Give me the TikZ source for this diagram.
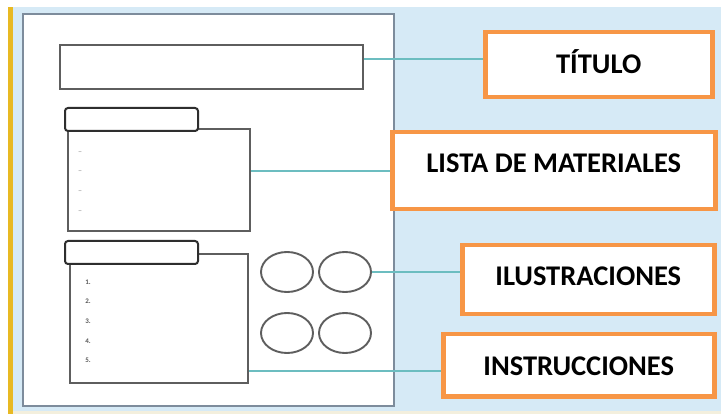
\documentclass[tikz,border=0pt]{standalone}
\usepackage{fontspec}
\setmainfont{Carlito}
\usetikzlibrary{shapes.geometric}
\definecolor{bgblue}{HTML}{D6EAF6}
\definecolor{pageframe}{HTML}{7D8C9C}
\definecolor{boxgray}{HTML}{5E5E5E}
\definecolor{tabdark}{HTML}{2E2E2E}
\definecolor{connteal}{HTML}{6CBDC0}
\definecolor{orng}{HTML}{F79646}
\definecolor{ystripe}{HTML}{E8B923}
\definecolor{paleyel}{HTML}{F3EFDD}
\begin{document}
\begin{tikzpicture}[x=1pt,y=-1pt,
  sbox/.style={draw=boxgray, line width=1.8pt, fill=white, inner sep=0pt, anchor=north west},
  tabbox/.style={draw=tabdark, line width=2pt, fill=white, rounded corners=3pt, inner sep=0pt, anchor=north west, minimum width=133pt, minimum height=23pt},
  oval/.style={ellipse, draw=boxgray, line width=1.9pt, fill=white, minimum width=52pt, minimum height=40pt, inner sep=0pt},
  lab/.style={draw=orng, line width=4.5pt, fill=white, inner sep=0pt, anchor=north west,
    font=\fontsize{28.5}{32}\selectfont\bfseries, text height=18pt, text depth=0pt},
  conn/.style={draw=connteal, line width=2pt},
  num/.style={font=\fontsize{7}{8}\selectfont\bfseries, text=black!65, inner sep=0pt},
  dsh/.style={font=\fontsize{8}{9}\selectfont, text=black!45, inner sep=0pt}]
\useasboundingbox (0,0) rectangle (721,414);
\fill[white] (0,0) rectangle (721,414);
\fill[bgblue] (8,7) rectangle (721,411);
\fill[paleyel] (8,411) rectangle (721,414);
\fill[ystripe] (8,7) rectangle (13,414);
% page
\node[draw=pageframe, line width=2pt, fill=white, inner sep=0pt, anchor=north west,
  minimum width=371pt, minimum height=392pt] (page) at (22,13) {};
% title box
\node[sbox, minimum width=303pt, minimum height=44pt] (tbox) at (59,44) {};
% materials
\node[sbox, minimum width=182pt, minimum height=102pt] (mbox) at (67,128) {};
\node[tabbox] (mtab) at (64,107) {};
\node[dsh] (d1) at (80,153) {–};
\node[dsh] (d2) at (80,172) {–};
\node[dsh] (d3) at (80,192) {–};
\node[dsh] (d4) at (80,212) {–};
% instructions
\node[sbox, minimum width=178pt, minimum height=129pt] (ibox) at (69,253) {};
\node[tabbox] (itab) at (64,240) {};
\node[num] (n1) at (88,282) {1.};
\node[num] (n2) at (88,301) {2.};
\node[num] (n3) at (88,321) {3.};
\node[num] (n4) at (88,341) {4.};
\node[num] (n5) at (88,360) {5.};
% illustrations
\node[oval] (e1) at (287,272) {};
\node[oval] (e2) at (345,272) {};
\node[oval] (e3) at (287,333) {};
\node[oval] (e4) at (345,333) {};
% orange labels
\node[lab, minimum width=227pt, minimum height=65pt] (ltit) at (483,30) {TÍTULO};
\node[lab, minimum width=323pt, minimum height=77pt, text depth=15pt] (lmat) at (390,130) {LISTA DE MATERIALES};
\node[lab, minimum width=252pt, minimum height=69pt, text depth=7pt] (lilu) at (460,243) {ILUSTRACIONES};
\node[lab, minimum width=271pt, minimum height=62pt, text height=21pt] (lins) at (441,332) {INSTRUCCIONES};
% connectors
\coordinate (tc) at ([yshift=8pt]tbox.east);
\coordinate (mc) at ([yshift=9pt]mbox.east);
\coordinate (ic) at ([yshift=-52.5pt]ibox.east);
\draw[conn] (tc) -- (ltit.west |- tc);
\draw[conn] (mc) -- (lmat.west |- mc);
\draw[conn] (e2.east) -- (lilu.west |- e2.east);
\draw[conn] (ic) -- (lins.west |- ic);
\end{tikzpicture}
\end{document}
